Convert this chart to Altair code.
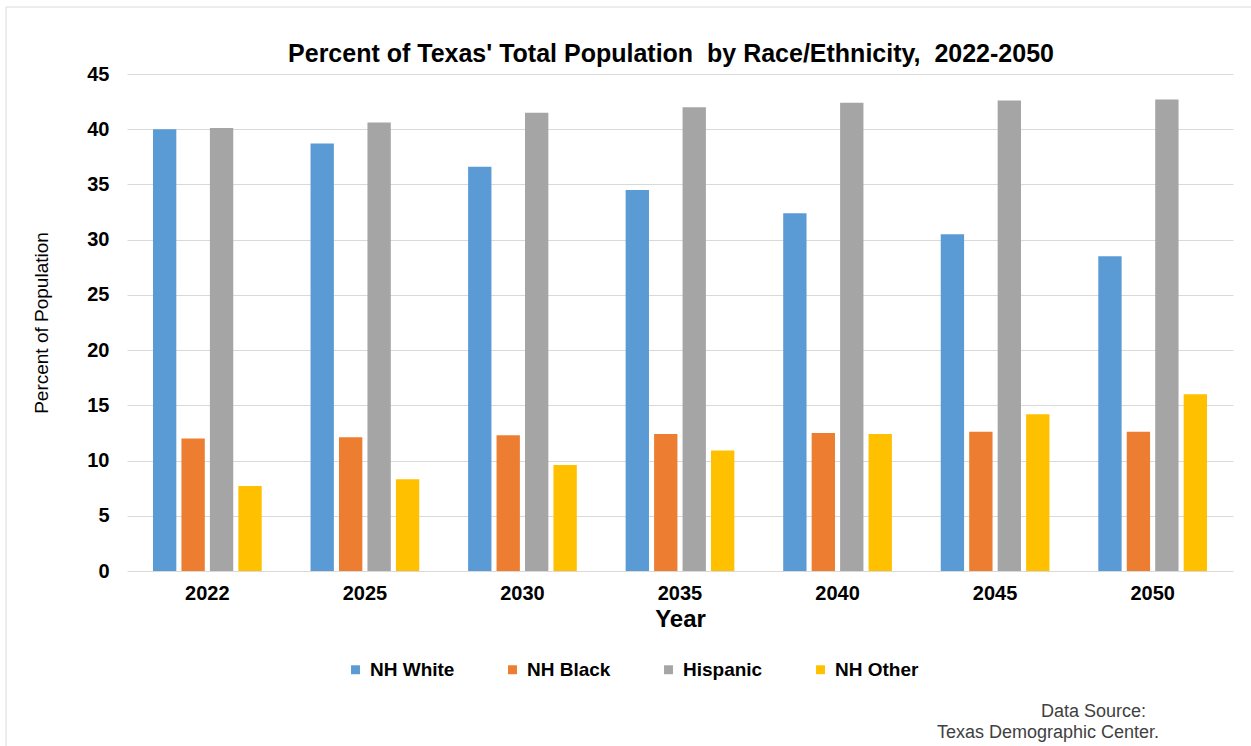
import altair as alt
import pandas as pd

# Share of Texas' total population by race/ethnicity (percent)
years = ["2022", "2025", "2030", "2035", "2040", "2045", "2050"]
groups = ["NH White", "NH Black", "Hispanic", "NH Other"]
nh_white = [40.0, 38.7, 36.6, 34.5, 32.4, 30.5, 28.5]
nh_black = [12.0, 12.1, 12.3, 12.4, 12.5, 12.6, 12.6]
hispanic = [40.1, 40.6, 41.5, 42.0, 42.4, 42.6, 42.7]
nh_other = [7.7, 8.3, 9.6, 10.9, 12.4, 14.2, 16.0]
colors = ["#5b9bd5", "#ed7d31", "#a5a5a5", "#ffc000"]

series = dict(zip(groups, [nh_white, nh_black, hispanic, nh_other]))
rows = [
    {"Year": y, "Group": g, "Percent": v}
    for g in groups
    for y, v in zip(years, series[g])
]
df = pd.DataFrame(rows)

FONT = "Liberation Sans, Arial, sans-serif"

bars = alt.Chart(df).mark_bar().encode(
    x=alt.X(
        "Year:N",
        sort=years,
        scale=alt.Scale(paddingInner=0.31, paddingOuter=0.165),
        axis=alt.Axis(
            title="Year",
            labelAngle=0,
            labelFont=FONT,
            labelFontSize=20,
            labelFontWeight="bold",
            labelColor="#000000",
            labelPadding=12,
            ticks=False,
            domain=False,
            titleFont=FONT,
            titleFontSize=24,
            titleFontWeight="bold",
            titleColor="#000000",
            titlePadding=4,
        ),
    ),
    xOffset=alt.XOffset(
        "Group:N",
        sort=groups,
        scale=alt.Scale(paddingInner=0.18, paddingOuter=0),
    ),
    y=alt.Y(
        "Percent:Q",
        scale=alt.Scale(domain=[0, 45], nice=False),
        axis=alt.Axis(
            title="Percent of Population",
            values=list(range(0, 46, 5)),
            labelFont=FONT,
            labelFontSize=20,
            labelFontWeight="bold",
            labelColor="#000000",
            labelPadding=18,
            ticks=False,
            domain=False,
            gridColor="#d9d9d9",
            gridWidth=1,
            titleFont=FONT,
            titleFontSize=19,
            titleFontWeight="normal",
            titleColor="#000000",
            titlePadding=35,
        ),
    ),
    color=alt.Color(
        "Group:N",
        sort=groups,
        scale=alt.Scale(domain=groups, range=colors),
        legend=alt.Legend(
            title=None,
            orient="none",
            direction="horizontal",
            legendX=219,
            legendY=586,
            symbolType="square",
            symbolSize=80,
            symbolStrokeWidth=0,
            labelFont=FONT,
            labelFontSize=19,
            labelFontWeight="bold",
            labelColor="#000000",
            labelOffset=5,
            columnPadding=48,
        ),
    ),
)

one = alt.Data(values=[{}])

# chart heading, centred a little left of the plot centre
heading = alt.Chart(one).mark_text(
    text="Percent of Texas' Total Population\u00a0 by Race/Ethnicity,\u00a0 2022-2050",
    font=FONT, fontSize=25, fontWeight="bold", color="#000000",
    align="center", baseline="alphabetic",
).encode(x=alt.value(544), y=alt.value(-12))

# thin frame along the top and left edges
frame_top = alt.Chart(one).mark_rule(color="#d9d9d9", strokeWidth=1).encode(
    x=alt.value(-121), x2=alt.value(1140), y=alt.value(-67)
)
frame_left = alt.Chart(one).mark_rule(color="#d9d9d9", strokeWidth=1).encode(
    x=alt.value(-121), y=alt.value(-67), y2=alt.value(690)
)

# source note, bottom right
source_1 = alt.Chart(one).mark_text(
    text="Data Source:", font=FONT, fontSize=18, color="#404040",
    align="right", baseline="alphabetic",
).encode(x=alt.value(1019), y=alt.value(643))
source_2 = alt.Chart(one).mark_text(
    text="Texas Demographic Center.", font=FONT, fontSize=18, color="#404040",
    align="right", baseline="alphabetic",
).encode(x=alt.value(1032), y=alt.value(664))

chart = alt.layer(bars, heading, frame_top, frame_left, source_1, source_2).properties(
    width=1106,
    height=497,
    padding={"left": 127, "top": 74, "right": 18, "bottom": 175},
    autosize=alt.AutoSizeParams(type="none"),
    background="#ffffff",
).configure_view(stroke=None)

chart.save("out.html", embed_options={"renderer": "svg", "actions": False})
